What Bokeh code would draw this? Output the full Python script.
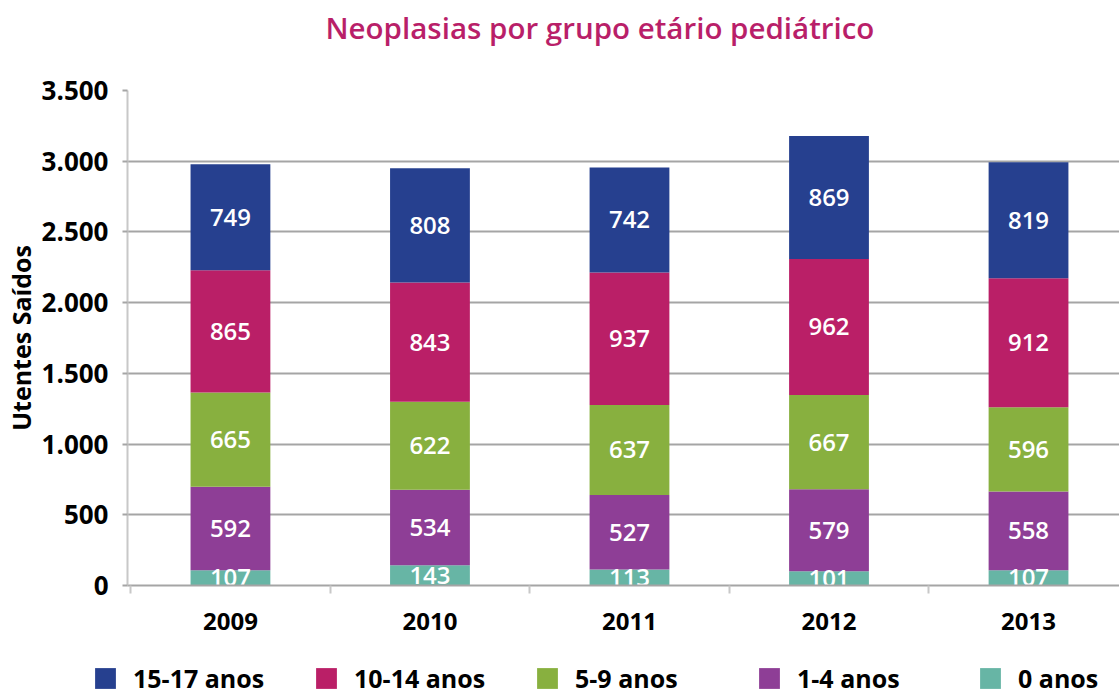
from bokeh.plotting import figure
from bokeh.models import (ColumnDataSource, Range1d, FixedTicker, CustomJSTickFormatter,
                          Legend, LegendItem, Label)
from bokeh.layouts import column
from bokeh.embed import file_html
from bokeh.resources import INLINE
from bokeh.core.properties import value
import numpy as np

years = ["2009", "2010", "2011", "2012", "2013"]
series_names = ["0 anos", "1-4 anos", "5-9 anos", "10-14 anos", "15-17 anos"]
v0 = [107, 143, 113, 101, 107]
v1_4 = [592, 534, 527, 579, 558]
v5_9 = [665, 622, 637, 667, 596]
v10_14 = [865, 843, 937, 962, 912]
v15_17 = [749, 808, 742, 869, 819]
y_ticks = [0, 500, 1000, 1500, 2000, 2500, 3000, 3500]
title_text = "Neoplasias por grupo etário pediátrico"

colors = ["#67B5A5", "#8E3E96", "#88B03F", "#BA1F67", "#26408F"]
values = [v0, v1_4, v5_9, v10_14, v15_17]
keys = ["s0", "s1", "s2", "s3", "s4"]

xs = list(range(len(years)))
data = {"x": xs}
for k, v in zip(keys, values):
    data[k] = v
source = ColumnDataSource(data)

FONT = "Open Sans"
SEMI = "Open Sans SemiBold"

W = 1119
H_TITLE = 60
H_LEG = 45
H_MAIN = 695 - H_TITLE - H_LEG
FRAME_TOP = 90 - H_TITLE
FRAME_BOTTOM = 585 - H_TITLE

# ---- title strip
t = figure(width=W, height=H_TITLE, output_backend="svg", toolbar_location=None,
           x_range=Range1d(0, 1), y_range=Range1d(0, 1),
           x_axis_location=None, y_axis_location=None,
           min_border_left=0, min_border_right=0, min_border_top=0, min_border_bottom=0)
t.outline_line_color = None
t.xgrid.grid_line_color = None
t.ygrid.grid_line_color = None
t.frame_align = False
t.add_layout(Label(x=325, y=H_TITLE - 27, x_units="screen", y_units="screen",
                   text=title_text, text_font=SEMI, text_font_style="normal",
                   text_font_size="29.5px", text_color="#B91F69",
                   text_align="left", text_baseline="middle"))

# ---- main chart
p = figure(width=W, height=H_MAIN, output_backend="svg", toolbar_location=None,
           x_range=Range1d(-0.516, 4.456), y_range=Range1d(0, 3500),
           min_border_left=127, min_border_right=0, min_border_top=FRAME_TOP,
           min_border_bottom=H_MAIN - FRAME_BOTTOM)
p.outline_line_color = None
p.background_fill_color = "white"
p.frame_align = False

renderers = p.vbar_stack(keys, x="x", width=0.4, color=colors, source=source, line_color=None)

# value labels
cum = np.zeros(len(years))
for k, v in zip(keys, values):
    v = np.array(v, dtype=float)
    mid = cum + v / 2
    cum = cum + v
    lsrc = ColumnDataSource({"x": xs, "y": list(mid), "t": [str(int(a)) for a in v]})
    p.text(x="x", y="y", text="t", source=lsrc, text_color="white",
           text_font=value(SEMI), text_font_style="normal", text_font_size="24px",
           text_align="center", text_baseline="middle")

# axes
p.yaxis.ticker = FixedTicker(ticks=y_ticks)
p.yaxis.formatter = CustomJSTickFormatter(code="return tick.toFixed(0).replace(/\\B(?=(\\d{3})+(?!\\d))/g, '.');")
p.yaxis.axis_line_color = "#c8c8c8"
p.yaxis.axis_line_width = 2
p.yaxis.major_tick_line_color = "#a5a5a5"
p.yaxis.major_tick_line_width = 2
p.yaxis.major_tick_out = 5
p.yaxis.major_tick_in = 0
p.yaxis.minor_tick_line_color = None
p.yaxis.major_label_standoff = 14
p.yaxis.major_label_text_font = FONT
p.yaxis.major_label_text_font_style = "bold"
p.yaxis.major_label_text_font_size = "26px"
p.yaxis.major_label_text_color = "black"
p.yaxis.axis_label = "Utentes Saídos"
p.yaxis.axis_label_text_font = FONT
p.yaxis.axis_label_text_font_style = "bold"
p.yaxis.axis_label_text_font_size = "25px"
p.yaxis.axis_label_text_color = "black"
p.yaxis.axis_label_standoff = 1

p.xaxis.ticker = FixedTicker(ticks=xs, minor_ticks=[-0.5, 0.5, 1.5, 2.5, 3.5, 4.5])
p.xaxis.major_label_overrides = {i: y for i, y in enumerate(years)}
p.xaxis.axis_line_color = "#a5a5a5"
p.xaxis.axis_line_width = 2
p.xaxis.major_tick_line_color = None
p.xaxis.minor_tick_line_color = "#c8c8c8"
p.xaxis.minor_tick_line_width = 2
p.xaxis.minor_tick_out = 8
p.xaxis.minor_tick_in = 0
p.xaxis.major_label_standoff = 19
p.xaxis.major_label_text_font = FONT
p.xaxis.major_label_text_font_style = "bold"
p.xaxis.major_label_text_font_size = "24px"
p.xaxis.major_label_text_color = "black"

p.xgrid.grid_line_color = None
p.ygrid.ticker = FixedTicker(ticks=y_ticks)
p.ygrid.grid_line_color = "#a5a5a5"
p.ygrid.grid_line_width = 2

# ---- legend strip (fixed slots)
q = figure(width=W, height=H_LEG, output_backend="svg", toolbar_location=None,
           x_range=Range1d(0, 1), y_range=Range1d(0, 1),
           x_axis_location=None, y_axis_location=None,
           min_border_left=0, min_border_right=0, min_border_top=0, min_border_bottom=0)
q.outline_line_color = None
q.xgrid.grid_line_color = None
q.ygrid.grid_line_color = None
q.frame_align = False

order = [4, 3, 2, 1, 0]
slot_x = [92, 313, 534, 756, 977]
for sx, idx in zip(slot_x, order):
    # zero-height proxy glyph, only used for the legend swatch
    proxy = q.vbar(x=[0], bottom=[0], top=[0], width=0.0, color=colors[idx], line_color=None)
    leg = Legend(items=[LegendItem(label=series_names[idx], renderers=[proxy])],
                 location=(sx, 0), orientation="horizontal",
                 glyph_width=26, glyph_height=26, label_height=26, label_standoff=15,
                 padding=0, margin=0, border_line_color=None, background_fill_alpha=0,
                 label_text_font=FONT, label_text_font_style="bold",
                 label_text_font_size="25px", label_text_color="black")
    q.add_layout(leg, "center")

layout = column(t, p, q, spacing=0)
open("out.html", "w").write(file_html(layout, INLINE))
